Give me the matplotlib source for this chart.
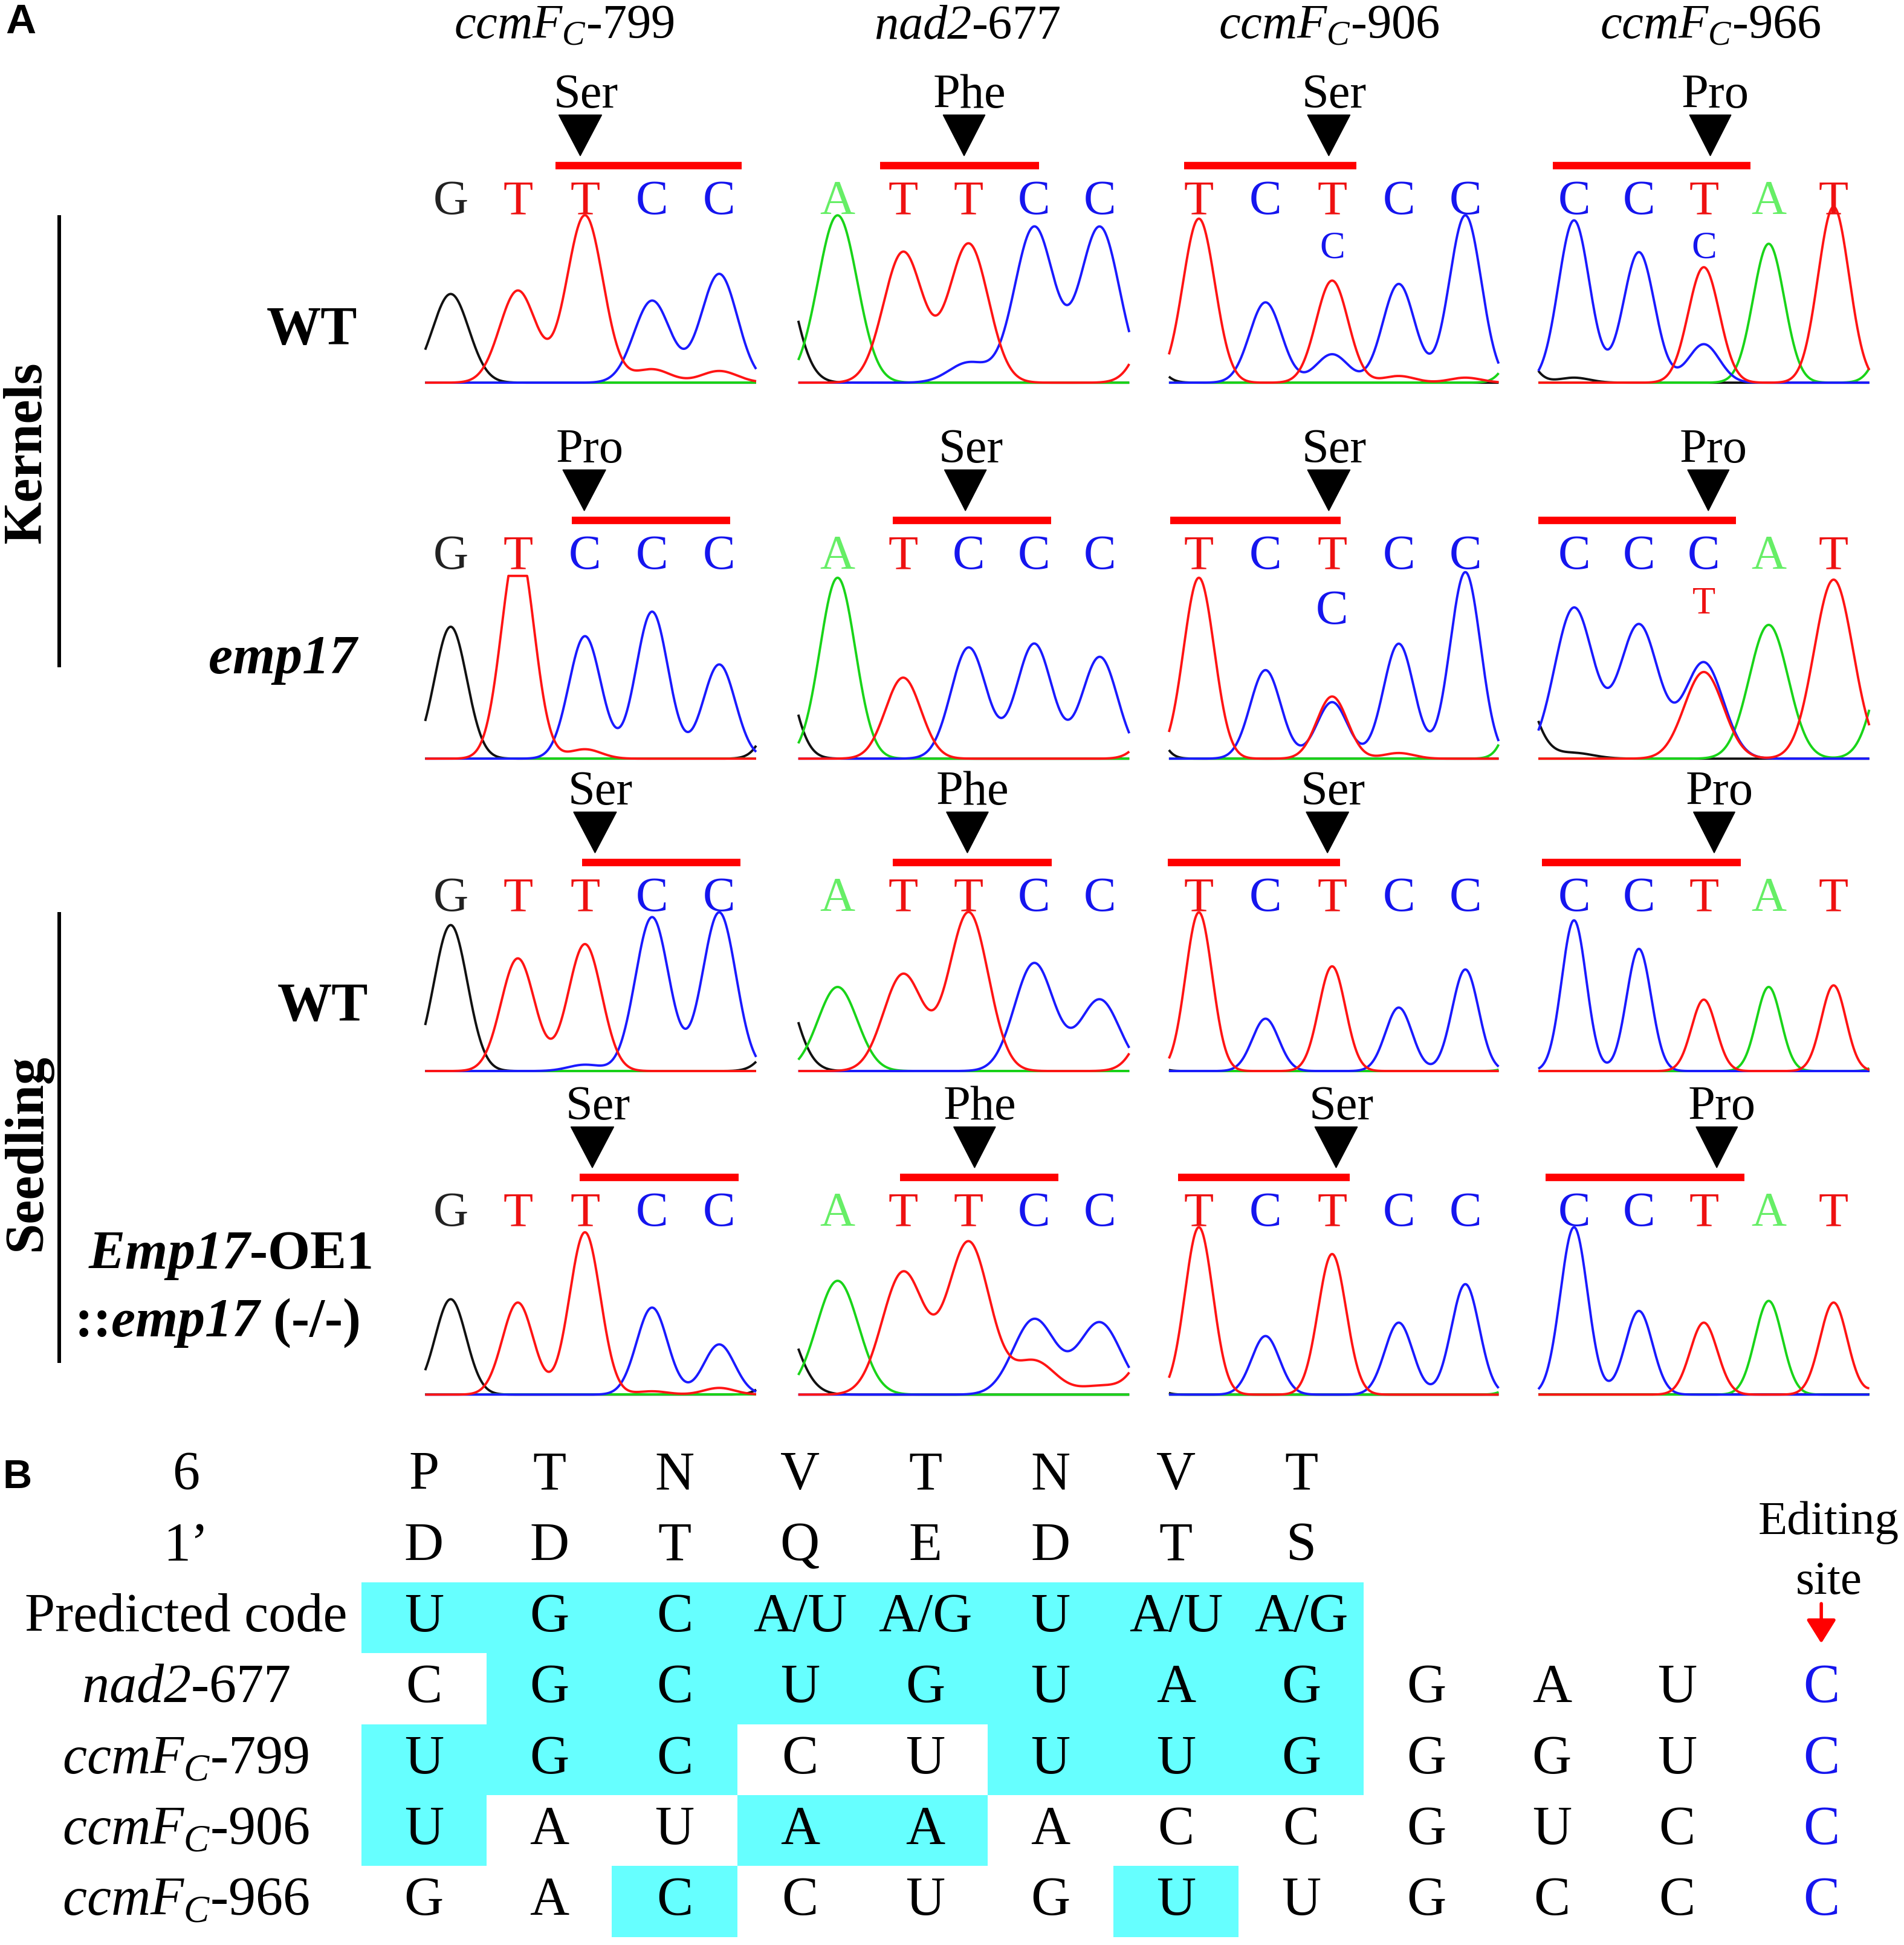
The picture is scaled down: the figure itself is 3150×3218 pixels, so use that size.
import numpy as np
import matplotlib
matplotlib.use("Agg")
import matplotlib.pyplot as plt

plt.rcParams['font.family'] = 'Liberation Serif'
plt.rcParams['mathtext.fontset'] = 'custom'
plt.rcParams['mathtext.rm'] = 'Liberation Serif'
plt.rcParams['mathtext.it'] = 'Liberation Serif:italic'
plt.rcParams['mathtext.sf'] = 'Liberation Serif:italic'   # italic incl. digits
plt.rcParams['mathtext.bf'] = 'Liberation Serif:bold'
plt.rcParams['mathtext.bfit'] = 'Liberation Serif:italic:bold'

# ---------------- data: panel A ----------------
sites = [r"$ccmF_C$-799", r"$\mathsf{nad2}$-677", r"$ccmF_C$-906", r"$ccmF_C$-966"]
codon_start = [2, 1, 0, 0]

calls_kernel_wt = ["GTTCC", "ATTCC", "TCTCC", "CCTAT"]
calls_emp17 = ["GTCCC", "ATCCC", "TCTCC", "CCCAT"]
calls_seedling_wt = ["GTTCC", "ATTCC", "TCTCC", "CCTAT"]
calls_oe = ["GTTCC", "ATTCC", "TCTCC", "CCTAT"]

aa_kernel_wt = ["Ser", "Phe", "Ser", "Pro"]
aa_emp17 = ["Pro", "Ser", "Ser", "Pro"]
aa_seedling_wt = ["Ser", "Phe", "Ser", "Pro"]
aa_oe = ["Ser", "Phe", "Ser", "Pro"]

# peak heights per channel at base positions -1..5 (1.0 = top of trace area)
peak_pos = [-1, 0, 1, 2, 3, 4, 5]
peaks_kernel_wt = [
    dict(G=[0, .53, 0, 0, 0, 0, 0], A=[0, 0, 0, 0, 0, 0, 0],
         C=[0, 0, 0, 0, .49, .65, 0], T=[0, 0, .55, 1.0, .08, .07, 0]),
    dict(G=[.9, 0, 0, 0, 0, 0, 0], A=[0, 1.0, 0, 0, 0, 0, 0],
         C=[0, 0, 0, .12, .93, .93, 0], T=[0, 0, .78, .83, 0, 0, .6]),
    dict(G=[.5, 0, 0, 0, 0, 0, 0], A=[0, 0, 0, 0, 0, 0, .5],
         C=[0, 0, .48, .17, .59, 1.0, 0], T=[0, .98, 0, .61, .04, .03, 0]),
    dict(G=[.4, .03, 0, 0, 0, 0, 0], A=[0, 0, 0, 0, .83, 0, .5],
         C=[0, .97, .78, .23, 0, 0, 0], T=[0, 0, 0, .69, 0, 1.05, 0]),
]
peaks_emp17 = [
    dict(G=[0, .70, 0, 0, 0, 0, .4], A=[0, 0, 0, 0, 0, 0, 0],
         C=[0, 0, 0, .65, .78, .50, 0], T=[0, 0, 1.15, .05, 0, 0, 0]),
    dict(G=[.7, 0, 0, 0, 0, 0, 0], A=[0, .96, 0, 0, 0, 0, 0],
         C=[0, 0, 0, .59, .61, .54, 0], T=[0, 0, .43, 0, 0, 0, .3]),
    dict(G=[.8, 0, 0, 0, 0, 0, 0], A=[0, 0, 0, 0, 0, 0, .8],
         C=[0, 0, .47, .30, .61, .99, 0], T=[0, .96, 0, .33, .03, 0, 0]),
    dict(G=[.6, .03, 0, 0, 0, 0, 0], A=[0, 0, 0, 0, .71, 0, .8],
         C=[0, .80, .71, .51, 0, 0, 0], T=[0, 0, 0, .46, 0, .95, 0]),
]
peaks_seedling_wt = [
    dict(G=[0, .92, 0, 0, 0, 0, .3], A=[0, 0, 0, 0, 0, 0, 0],
         C=[0, 0, 0, .04, .97, 1.0, 0], T=[0, 0, .71, .80, 0, 0, 0]),
    dict(G=[.75, 0, 0, 0, 0, 0, 0], A=[0, .53, 0, 0, 0, 0, 0],
         C=[0, 0, 0, 0, .68, .45, 0], T=[0, 0, .61, 1.0, 0, 0, .6]),
    dict(G=[.3, 0, 0, 0, 0, 0, 0], A=[0, 0, 0, 0, 0, 0, .2],
         C=[0, 0, .33, 0, .40, .64, 0], T=[0, 1.0, 0, .66, 0, 0, 0]),
    dict(G=[0, 0, 0, 0, 0, 0, 0], A=[0, 0, 0, 0, .53, 0, .3],
         C=[0, .95, .77, 0, 0, 0, 0], T=[0, 0, 0, .45, 0, .54, 0]),
]
peaks_oe = [
    dict(G=[0, .57, 0, 0, 0, 0, .2], A=[0, 0, 0, 0, 0, 0, 0],
         C=[0, 0, 0, 0, .52, .30, 0], T=[0, 0, .55, .97, .02, .04, 0]),
    dict(G=[.6, 0, 0, 0, 0, 0, 0], A=[0, .68, 0, 0, 0, 0, 0],
         C=[0, 0, 0, 0, .45, .43, 0], T=[0, 0, .73, .91, .2, .05, .5]),
    dict(G=[.3, 0, 0, 0, 0, 0, 0], A=[0, 0, 0, 0, 0, 0, .25],
         C=[0, 0, .35, 0, .43, .66, 0], T=[0, 1.0, 0, .84, 0, 0, 0]),
    dict(G=[0, 0, 0, 0, 0, 0, 0], A=[0, 0, 0, 0, .56, 0, 0],
         C=[0, 1.0, .50, 0, 0, 0, 0], T=[0, 0, 0, .43, 0, .55, .2]),
]
peak_sigma = [
    [.27, .30, .24, .24],
    [.24, .27, .23, .30],
    [.25, .30, .20, .19],
    [.23, .32, .21, .21],
]
# secondary base calls under the edited site: (row, col) -> letter, height, small
second_calls = {(0, 2): ("C", .80, True), (0, 3): ("C", .80, True),
                (1, 2): ("C", .78, False), (1, 3): ("T", .82, True)}
saturation = {(1, 0): .97}

# ---------------- data: panel B ----------------
row_6 = ["P", "T", "N", "V", "T", "N", "V", "T"]
row_1p = ["D", "D", "T", "Q", "E", "D", "T", "S"]
predicted = ["U", "G", "C", "A/U", "A/G", "U", "A/U", "A/G"]
predicted_hit = [1, 1, 1, 1, 1, 1, 1, 1]
seq_names = [r"$\mathsf{nad2}$-677", r"$ccmF_C$-799", r"$ccmF_C$-906", r"$ccmF_C$-966"]
seq_nad2_677 = ["C", "G", "C", "U", "G", "U", "A", "G", "G", "A", "U", "C"]
seq_ccmfc_799 = ["U", "G", "C", "C", "U", "U", "U", "G", "G", "G", "U", "C"]
seq_ccmfc_906 = ["U", "A", "U", "A", "A", "A", "C", "C", "G", "U", "C", "C"]
seq_ccmfc_966 = ["G", "A", "C", "C", "U", "G", "U", "U", "G", "C", "C", "C"]
hit_nad2_677 = [0, 1, 1, 1, 1, 1, 1, 1]
hit_ccmfc_799 = [1, 1, 1, 0, 0, 1, 1, 1]
hit_ccmfc_906 = [1, 0, 0, 1, 1, 0, 0, 0]
hit_ccmfc_966 = [0, 0, 1, 0, 0, 0, 1, 0]

# ---------------- styles / layout ----------------
trace_col = {'G': '#111111', 'A': '#19d419', 'C': '#1a1aff', 'T': '#ff1414'}
letter_col = {'G': '#222222', 'A': '#66ee66', 'C': '#1515ee', 'T': '#ee1111'}
W, H = 1536.0, 1569.0
row_base = [308.7, 612, 864, 1125]
row_unit = [135, 152, 128, 135]
col_x = [(343, 610), (644, 911), (943, 1209), (1241, 1508)]
col_xlim = [(-0.38, 4.55), (-0.6, 4.45), (-0.45, 4.5), (-0.55, 4.55)]
# codon bar extent and triangle position, in base units of each panel
bar_span = [
    [(1.56, 4.33), (0.65, 3.07), (-0.22, 2.36), (-0.33, 2.72)],
    [(1.80, 4.16), (0.84, 3.26), (-0.43, 2.13), (-0.55, 2.50)],
    [(1.96, 4.32), (0.84, 3.27), (-0.47, 2.12), (-0.49, 2.57)],
    [(1.92, 4.29), (0.95, 3.37), (-0.31, 2.26), (-0.44, 2.63)],
]
tri_x = [
    [1.93, 1.93, 1.95, 2.10],
    [1.99, 1.95, 1.95, 2.07],
    [2.15, 1.98, 1.93, 2.16],
    [2.11, 2.09, 2.06, 2.20],
]

fig = plt.figure(figsize=(31.5, 32.18), dpi=100)

ov = fig.add_axes([0, 0, 1, 1])
ov.set_xlim(0, W)
ov.set_ylim(H, 0)
ov.axis('off')

ov.text(17, 18, "A", fontsize=50, fontweight='bold', family='Liberation Sans', ha='center', va='center')
ov.text(14, 1192, "B", fontsize=48, fontweight='bold', family='Liberation Sans', ha='center', va='center')
for name, xc in zip(sites, [455, 780, 1072, 1380]):
    ov.text(xc, 31, name, fontsize=58, ha='center', va='baseline')

ov.text(22, 365, "Kernels", fontsize=65, fontweight='bold', rotation=90, ha='center', va='center')
ov.text(22, 930, "Seedling", fontsize=65, fontweight='bold', rotation=90, ha='center', va='center')
ov.plot([48, 48], [175, 537], color='black', lw=4.3)
ov.plot([48, 48], [737, 1098], color='black', lw=4.3)
ov.text(288, 267, "WT", fontsize=65, fontweight='bold', ha='right', va='center')
ov.text(290, 533, r"$\mathbfit{emp17}$", fontsize=65, fontweight='bold', ha='right', va='center')
ov.text(297, 813, "WT", fontsize=65, fontweight='bold', ha='right', va='center')
ov.text(300, 1013, r"$\mathbfit{Emp17}$-OE1", fontsize=65, fontweight='bold', ha='right', va='center')
ov.text(290, 1067, r"::$\mathbfit{emp17}$ (-/-)", fontsize=65, fontweight='bold', ha='right', va='center')

rows = [(calls_kernel_wt, aa_kernel_wt, peaks_kernel_wt),
        (calls_emp17, aa_emp17, peaks_emp17),
        (calls_seedling_wt, aa_seedling_wt, peaks_seedling_wt),
        (calls_oe, aa_oe, peaks_oe)]

for r, (calls, aas, peaks) in enumerate(rows):
    unit = row_unit[r]
    for c in range(4):
        x0, x1 = col_x[c]
        ax = fig.add_axes([x0 / W, 1 - row_base[r] / H, (x1 - x0) / W, unit / H])
        ax.set_xlim(*col_xlim[c])
        ax.set_ylim(0, 1)
        ax.axis('off')
        xs = np.linspace(col_xlim[c][0], col_xlim[c][1], 800)
        sig = peak_sigma[r][c]
        for ch in ['G', 'A', 'C', 'T']:
            ys = np.zeros_like(xs)
            for p, h in zip(peak_pos, peaks[c][ch]):
                ys += h * np.exp(-(xs - p) ** 2 / (2 * sig ** 2))
            if (r, c) in saturation:
                ys = np.minimum(ys, saturation[(r, c)])
            ax.plot(xs, ys, color=trace_col[ch], lw=2.8, clip_on=False, solid_capstyle='butt')
        for i, b in enumerate(calls[c]):
            ax.text(i, 1 + 1.0 / unit, b, color=letter_col[b], fontsize=58, ha='center', va='baseline')
        b0, b1 = bar_span[r][c]
        ax.hlines(1 + 40.0 / unit, b0, b1, color='#ff0000', lw=8.9, clip_on=False)
        tx = tri_x[r][c]
        ax.fill([tx - 0.32, tx + 0.32, tx], [1 + 81.0 / unit, 1 + 81.0 / unit, 1 + 48.0 / unit],
                color='black', clip_on=False)
        ax.text(tx + 0.08, 1 + 87.0 / unit, aas[c], fontsize=58, ha='center', va='baseline')
        if (r, c) in second_calls:
            b, yy, small = second_calls[(r, c)]
            ax.text(2.0, yy, b, color=letter_col[b], fontsize=45 if small else 58,
                    ha='center', va='center')

# ---------------- panel B ----------------
x0b, dxb = 342.0, 101.1
y0b, dyb = 1190.7, 57.19
axb = fig.add_axes([0, 0, 1, (H - 1160) / H])
axb.set_xlim((0 - x0b) / dxb, (W - x0b) / dxb)
axb.set_ylim((H - y0b) / dyb, (1160 - y0b) / dyb)
axb.axis('off')

cols = list(range(11)) + [11.15]
cyan = '#66ffff'
tfs = 65
lab_x = (150 - x0b) / dxb

hit_rows = [predicted_hit, hit_nad2_677, hit_ccmfc_799, hit_ccmfc_906, hit_ccmfc_966]
for j, hits in enumerate(hit_rows):
    idx = [i for i, h in enumerate(hits) if h]
    axb.bar(idx, 1.0, width=1.0, bottom=j + 1.5, color=cyan, edgecolor='none', align='center')

axb.text(lab_x, 0, "6", fontsize=tfs, ha='center', va='center')
axb.text(lab_x, 1, "1\u2019", fontsize=tfs, ha='center', va='center')
axb.text(lab_x, 2, "Predicted code", fontsize=tfs, ha='center', va='center')
for k, name in enumerate(seq_names):
    axb.text(lab_x, 3 + k, name, fontsize=tfs, ha='center', va='center')

for i, v in enumerate(row_6):
    axb.text(cols[i], 0, v, fontsize=tfs, ha='center', va='center')
for i, v in enumerate(row_1p):
    axb.text(cols[i], 1, v, fontsize=tfs, ha='center', va='center')
for i, v in enumerate(predicted):
    axb.text(cols[i], 2, v, fontsize=tfs, ha='center', va='center')
for k, seq in enumerate([seq_nad2_677, seq_ccmfc_799, seq_ccmfc_906, seq_ccmfc_966]):
    for i, v in enumerate(seq):
        colr = '#1515ee' if i == len(seq) - 1 else 'black'
        axb.text(cols[i], 3 + k, v, fontsize=tfs, ha='center', va='center', color=colr)

axb.text(11.21, 0.657, "Editing", fontsize=57, ha='center', va='center')
axb.text(11.21, 1.505, "site", fontsize=57, ha='center', va='center')
axb.annotate('', xy=(11.15, 2.36), xytext=(11.15, 1.8),
             arrowprops=dict(arrowstyle='-|>,head_length=0.8,head_width=0.5',
                             color='#ff0000', lw=4, mutation_scale=30, shrinkA=0, shrinkB=0))

fig.savefig("out.png", dpi=100)
